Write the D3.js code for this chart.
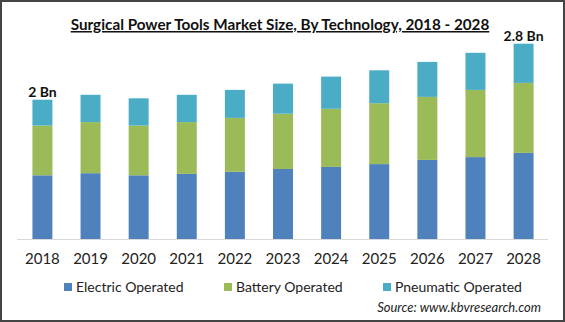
<!DOCTYPE html>
<html>
<head>
<meta charset="utf-8">
<script src="https://cdn.jsdelivr.net/npm/d3@7"></script>
<style>
  body { margin: 0; background: #fff; }
  svg { display: block; }
</style>
</head>
<body>
<div id="chart"></div>
<script>
// values (USD Bn)
var years = ["2018","2019","2020","2021","2022","2023","2024","2025","2026","2027","2028"];
var electric  = [0.91, 0.94, 0.91, 0.93, 0.96, 1.00, 1.03, 1.07, 1.13, 1.17, 1.23];
var battery   = [0.71, 0.73, 0.71, 0.74, 0.77, 0.79, 0.83, 0.87, 0.90, 0.96, 1.00];
var pneumatic = [0.37, 0.39, 0.39, 0.39, 0.40, 0.43, 0.46, 0.47, 0.50, 0.53, 0.56];
var seriesNames = ["Electric Operated", "Battery Operated", "Pneumatic Operated"];
var colors = ["#4f81bd", "#9bbb59", "#4bacc6"];
var callouts = {"2018": "2 Bn", "2028": "2.8 Bn"};

var W = 565, H = 322;
var fontFam = "Lato, 'Open Sans', sans-serif";

var svg = d3.select("#chart").append("svg")
  .attr("width", W).attr("height", H);

svg.append("rect")
  .attr("x", 1).attr("y", 1).attr("width", W - 2).attr("height", H - 2)
  .attr("fill", "#fff").attr("stroke", "#444").attr("stroke-width", 2);

// build stacked table
var table = years.map(function(y, i){
  return {year: y, e: electric[i], b: battery[i], p: pneumatic[i]};
});
var stack = d3.stack().keys(["e","b","p"]);
var layers = stack(table);

var x = d3.scaleBand()
  .domain(years)
  .range([18, 548])
  .paddingInner(0.585)
  .paddingOuter(0.3);

var y = d3.scaleLinear()
  .domain([0, 3])
  .range([239, 29]);

var g = svg.append("g");

g.selectAll("g.layer")
  .data(layers).enter()
  .append("g").attr("class","layer")
  .attr("fill", function(d,i){ return colors[i]; })
  .selectAll("rect")
  .data(function(d){ return d; }).enter()
  .append("rect")
  .attr("x", function(d){ return x(d.data.year); })
  .attr("width", x.bandwidth())
  .attr("y", function(d){ return y(d[1]); })
  .attr("height", function(d){ return y(d[0]) - y(d[1]); });

// x axis
var xAxis = d3.axisBottom(x).tickSize(0).tickPadding(14);
var ax = svg.append("g")
  .attr("transform", "translate(0,239)")
  .call(xAxis);
ax.select(".domain").attr("stroke", "#d9d9d9").attr("stroke-width", 1)
  .attr("d", "M17,0.5H548");
ax.selectAll(".tick text")
  .attr("font-family", fontFam)
  .attr("font-size", 15)
  .attr("fill", "#222");

// total callouts
years.forEach(function(yr, i){
  if(!callouts[yr]) return;
  var tot = electric[i] + battery[i] + pneumatic[i];
  svg.append("text")
    .attr("x", x(yr) + x.bandwidth()/2)
    .attr("y", y(tot) - 3)
    .attr("text-anchor", "middle")
    .attr("font-family", fontFam)
    .attr("font-weight", "bold")
    .attr("font-size", 14)
    .attr("fill", "#111")
    .text(callouts[yr]);
});

// title - shrink font until it fits the width seen in the reference
var title = svg.append("text")
  .attr("x", 280).attr("y", 30)
  .attr("text-anchor", "middle")
  .attr("font-family", fontFam)
  .attr("font-weight", "bold")
  .attr("text-decoration", "underline")
  .attr("fill", "#111")
  .text("Surgical Power Tools Market Size, By Technology, 2018 - 2028");
var fs = 17;
title.attr("font-size", fs);
while(title.node().getComputedTextLength() > 424 && fs > 10){
  fs -= 0.25;
  title.attr("font-size", fs);
}

// legend
var legX = [64, 224, 383];
var leg = svg.selectAll("g.leg")
  .data(seriesNames).enter()
  .append("g").attr("class","leg")
  .attr("transform", function(d,i){ return "translate(" + legX[i] + ",283)"; });
leg.append("rect")
  .attr("width", 8).attr("height", 8)
  .attr("fill", function(d,i){ return colors[i]; });
leg.append("text")
  .attr("x", 12).attr("y", 8.5)
  .attr("font-family", fontFam)
  .attr("font-size", 14)
  .attr("fill", "#222")
  .text(function(d){ return d; });

// source
svg.append("text")
  .attr("x", 541).attr("y", 312)
  .attr("text-anchor", "end")
  .attr("font-family", fontFam)
  .attr("font-style", "italic")
  .attr("font-size", 13)
  .attr("fill", "#222")
  .text("Source:  www.kbvresearch.com");
</script>
</body>
</html>
